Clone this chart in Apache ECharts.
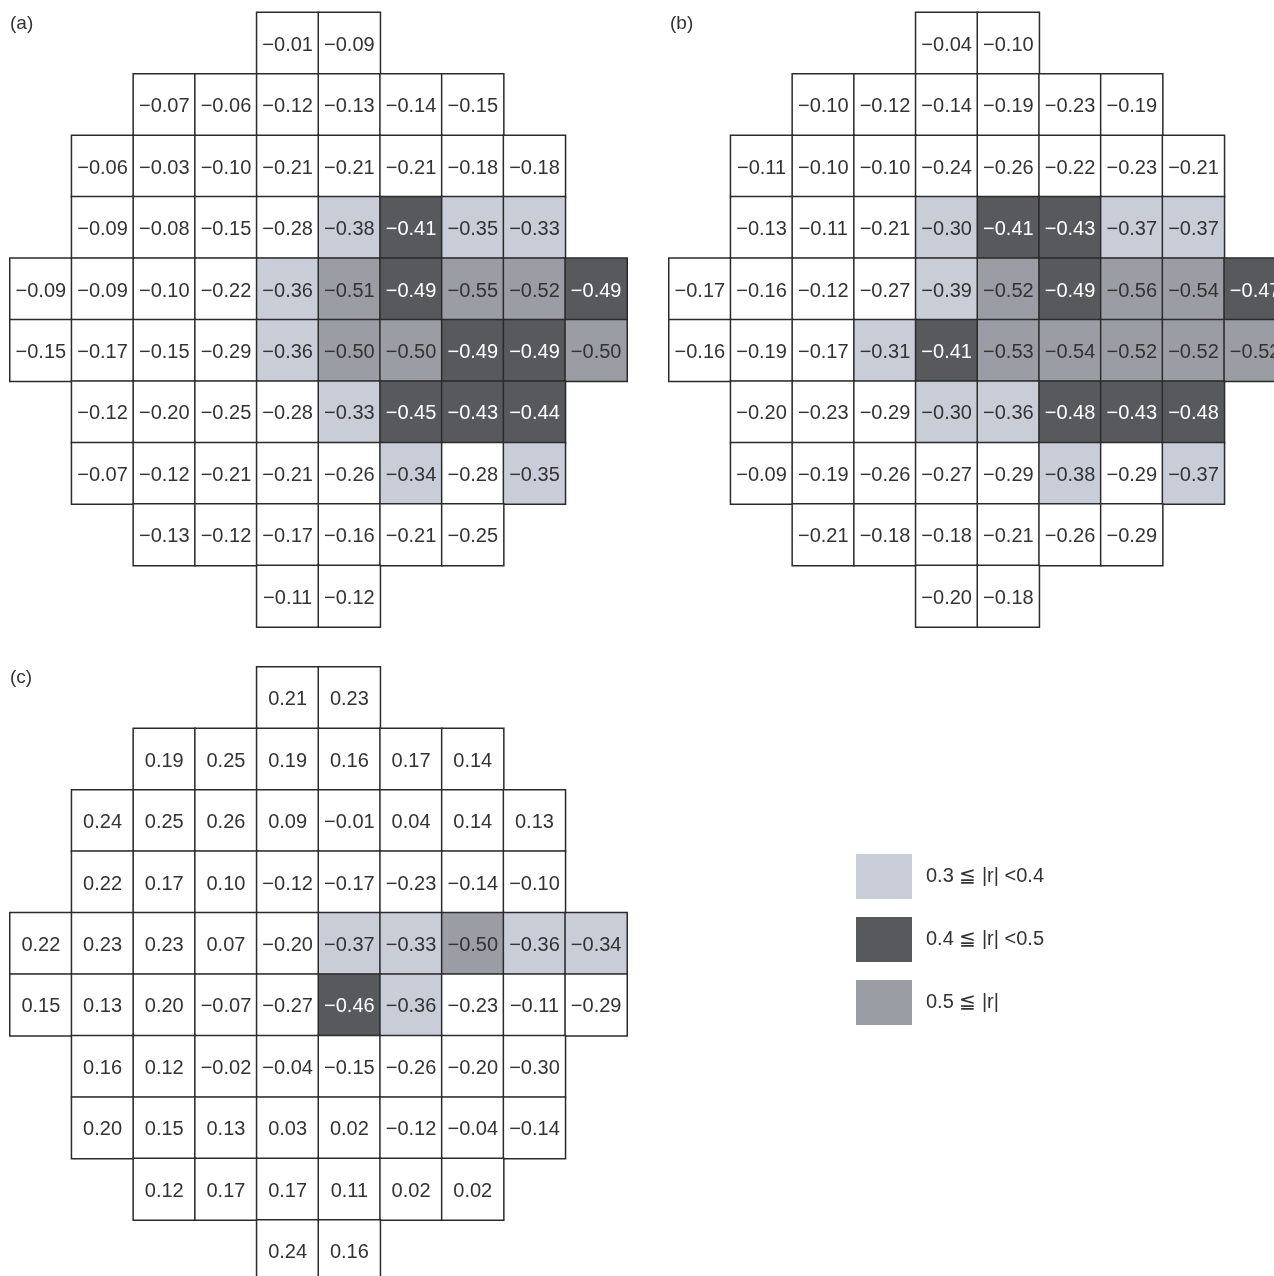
<!DOCTYPE html>
<html>
<head>
<meta charset="utf-8">
<script src="https://cdn.jsdelivr.net/npm/echarts@6/dist/echarts.min.js"></script>
<style>html,body{margin:0;padding:0;background:#fff;overflow:hidden;}#chart{width:1300px;height:1300px;}</style>
</head>
<body>
<div id="chart"></div>
<script>
// Visual-field layout: first column of each row
const rowStart = [4, 2, 1, 1, 0, 0, 1, 1, 2, 4];
const columns = ['0','1','2','3','4','5','6','7','8','9'];
const rows = ['0','1','2','3','4','5','6','7','8','9'];

// Panel (a) correlation coefficients, row by row
const panelA = [
  [-0.01, -0.09],
  [-0.07, -0.06, -0.12, -0.13, -0.14, -0.15],
  [-0.06, -0.03, -0.10, -0.21, -0.21, -0.21, -0.18, -0.18],
  [-0.09, -0.08, -0.15, -0.28, -0.38, -0.41, -0.35, -0.33],
  [-0.09, -0.09, -0.10, -0.22, -0.36, -0.51, -0.49, -0.55, -0.52, -0.49],
  [-0.15, -0.17, -0.15, -0.29, -0.36, -0.50, -0.50, -0.49, -0.49, -0.50],
  [-0.12, -0.20, -0.25, -0.28, -0.33, -0.45, -0.43, -0.44],
  [-0.07, -0.12, -0.21, -0.21, -0.26, -0.34, -0.28, -0.35],
  [-0.13, -0.12, -0.17, -0.16, -0.21, -0.25],
  [-0.11, -0.12]
];
// Panel (b)
const panelB = [
  [-0.04, -0.10],
  [-0.10, -0.12, -0.14, -0.19, -0.23, -0.19],
  [-0.11, -0.10, -0.10, -0.24, -0.26, -0.22, -0.23, -0.21],
  [-0.13, -0.11, -0.21, -0.30, -0.41, -0.43, -0.37, -0.37],
  [-0.17, -0.16, -0.12, -0.27, -0.39, -0.52, -0.49, -0.56, -0.54, -0.47],
  [-0.16, -0.19, -0.17, -0.31, -0.41, -0.53, -0.54, -0.52, -0.52, -0.52],
  [-0.20, -0.23, -0.29, -0.30, -0.36, -0.48, -0.43, -0.48],
  [-0.09, -0.19, -0.26, -0.27, -0.29, -0.38, -0.29, -0.37],
  [-0.21, -0.18, -0.18, -0.21, -0.26, -0.29],
  [-0.20, -0.18]
];
// Panel (c)
const panelC = [
  [0.21, 0.23],
  [0.19, 0.25, 0.19, 0.16, 0.17, 0.14],
  [0.24, 0.25, 0.26, 0.09, -0.01, 0.04, 0.14, 0.13],
  [0.22, 0.17, 0.10, -0.12, -0.17, -0.23, -0.14, -0.10],
  [0.22, 0.23, 0.23, 0.07, -0.20, -0.37, -0.33, -0.50, -0.36, -0.34],
  [0.15, 0.13, 0.20, -0.07, -0.27, -0.46, -0.36, -0.23, -0.11, -0.29],
  [0.16, 0.12, -0.02, -0.04, -0.15, -0.26, -0.20, -0.30],
  [0.20, 0.15, 0.13, 0.03, 0.02, -0.12, -0.04, -0.14],
  [0.12, 0.17, 0.17, 0.11, 0.02, 0.02],
  [0.24, 0.16]
];
// Cells printed as -0.30 but left unshaded in the source (|r| just below 0.3 before rounding): [row, indexInRow]
const unshadedC = [[6, 7]];

const panelLabels = ['(a)', '(b)', '(c)'];
const legendLabels = ['0.3 \u2266 |r| <0.4', '0.4 \u2266 |r| <0.5', '0.5 \u2266 |r|'];

const LIGHT = '#c9cdd8', DARK = '#57595c', MID = '#9a9da3';
const FONT = "'Liberation Sans', Arial, sans-serif";

function level(v) {
  const a = Math.abs(v);
  if (a >= 0.5) return 3;
  if (a >= 0.4) return 2;
  if (a >= 0.3) return 1;
  return 0;
}
function fmt(v) {
  return (v < 0 ? '\u2212' : '') + Math.abs(v).toFixed(2);
}
function buildData(panel, exceptions) {
  const out = [];
  panel.forEach((row, r) => {
    row.forEach((v, i) => {
      let lv = level(v);
      if (exceptions && exceptions.some(e => e[0] === r && e[1] === i)) lv = 0;
      out.push({
        value: [rowStart[r] + i, r, v, lv],
        label: { color: lv === 2 ? '#ffffff' : '#333333' }
      });
    });
  });
  return out;
}

const grids = [
  { left: 10, top: 12.5, width: 617, height: 614.5 },
  { left: 669, top: 12.5, width: 617, height: 614.5 },
  { left: 10, top: 667, width: 617, height: 614.5 }
];
const titlePos = [[10, 14], [670, 14], [10, 668]];
const datasets = [buildData(panelA), buildData(panelB), buildData(panelC, unshadedC)];

const chart = echarts.init(document.getElementById('chart'), null, { renderer: 'canvas' });
const option = {
  backgroundColor: '#ffffff',
  animation: false,
  textStyle: { fontFamily: FONT },
  title: panelLabels.map((t, i) => ({
    text: t, left: titlePos[i][0], top: titlePos[i][1], padding: 0,
    textStyle: { fontFamily: FONT, fontSize: 19, fontWeight: 'normal', color: '#333' }
  })),
  grid: grids.map(g => Object.assign({ containLabel: false }, g)),
  xAxis: grids.map((g, i) => ({
    type: 'category', data: columns, gridIndex: i, show: false
  })),
  yAxis: grids.map((g, i) => ({
    type: 'category', data: rows, gridIndex: i, inverse: true, show: false
  })),
  visualMap: {
    type: 'piecewise',
    dimension: 3,
    seriesIndex: [0, 1, 2],
    left: 856, top: 854,
    orient: 'vertical',
    align: 'left',
    inverse: true,
    padding: 0,
    itemWidth: 56, itemHeight: 45, itemGap: 18, textGap: 14,
    itemSymbol: 'rect',
    selectedMode: false,
    pieces: [
      { value: 1, label: legendLabels[0], color: LIGHT },
      { value: 2, label: legendLabels[1], color: DARK },
      { value: 3, label: legendLabels[2], color: MID }
    ],
    outOfRange: { color: '#ffffff' },
    textStyle: { fontFamily: FONT, fontSize: 20, color: '#333' }
  },
  series: datasets.map((d, i) => ({
    type: 'heatmap',
    xAxisIndex: i, yAxisIndex: i,
    data: d,
    itemStyle: { borderColor: '#2b2b2b', borderWidth: 1.5 },
    label: {
      show: true,
      fontFamily: FONT, fontSize: 20,
      offset: [0, 2],
      formatter: p => fmt(p.value[2])
    },
    emphasis: { disabled: true }
  }))
};
chart.setOption(option);
</script>
</body>
</html>
